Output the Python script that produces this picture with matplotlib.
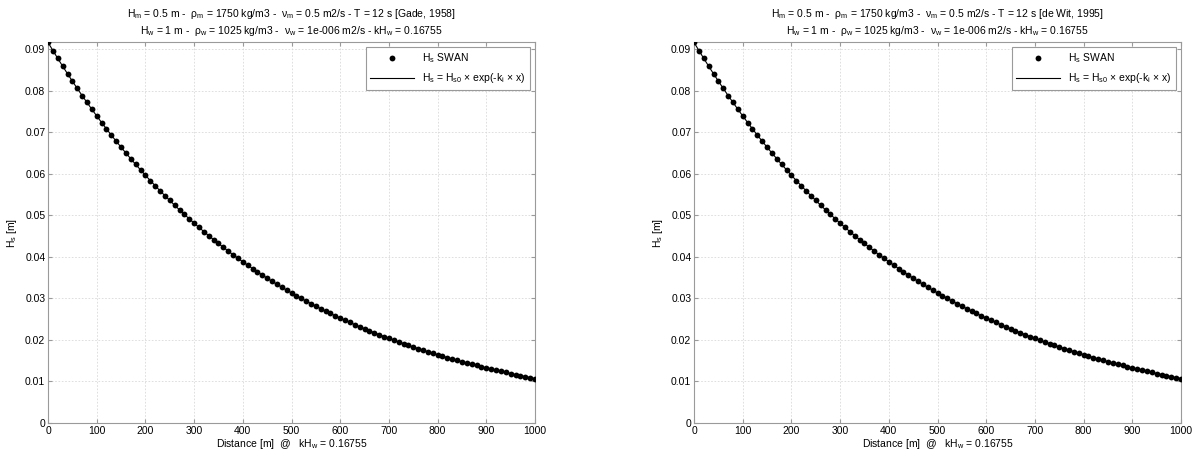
import numpy as np
import matplotlib
matplotlib.use("Agg")
from matplotlib import pyplot as plt
from matplotlib.ticker import FuncFormatter

plt.rcParams["font.family"] = ["Liberation Sans", "DejaVu Sans"]
plt.rcParams["mathtext.default"] = "regular"
plt.rcParams["font.size"] = 7.5

# distance along the flume [m]
distance = np.arange(0, 1001, 10)

# significant wave height from SWAN [m]
hs_swan = [
    0.09160, 0.08965, 0.08775, 0.08589, 0.08406, 0.08228, 0.08053, 0.07882, 0.07715, 0.07551,
    0.07390, 0.07233, 0.07080, 0.06929, 0.06782, 0.06638, 0.06497, 0.06359, 0.06224, 0.06092,
    0.05962, 0.05836, 0.05712, 0.05590, 0.05472, 0.05356, 0.05242, 0.05130, 0.05021, 0.04915,
    0.04810, 0.04708, 0.04608, 0.04510, 0.04414, 0.04321, 0.04229, 0.04139, 0.04051, 0.03965,
    0.03881, 0.03799, 0.03718, 0.03639, 0.03562, 0.03486, 0.03412, 0.03339, 0.03269, 0.03199,
    0.03131, 0.03065, 0.03000, 0.02936, 0.02874, 0.02813, 0.02753, 0.02694, 0.02637, 0.02581,
    0.02526, 0.02473, 0.02420, 0.02369, 0.02318, 0.02269, 0.02221, 0.02174, 0.02128, 0.02082,
    0.02038, 0.01995, 0.01953, 0.01911, 0.01870, 0.01831, 0.01792, 0.01754, 0.01717, 0.01680,
    0.01644, 0.01609, 0.01575, 0.01542, 0.01509, 0.01477, 0.01446, 0.01415, 0.01385, 0.01355,
    0.01327, 0.01298, 0.01271, 0.01244, 0.01217, 0.01191, 0.01166, 0.01141, 0.01117, 0.01093,
    0.01070,
]

# exponential fit Hs = Hs0 * exp(-ki * x)
hs_fit = list(hs_swan)

sources = ["[Gade, 1958]", "[de Wit, 1995]"]

title_line2 = ("H$_w$ = 1 m -  ρ$_w$ = 1025 kg/m3 -  ν$_w$ = 1e-006 m2/s - "
               "kH$_w$ = 0.16755")

fig = plt.figure(figsize=(11.95, 4.59), dpi=100)
axes = [fig.add_axes([0.0402, 0.0784, 0.4075, 0.830]),
        fig.add_axes([0.5808, 0.0784, 0.4075, 0.830])]

for ax, src in zip(axes, sources):
    ax.plot(distance, hs_swan, "o", color="black", markersize=4.2,
            markeredgewidth=0, label="H$_s$ SWAN", zorder=3)
    ax.plot(distance, hs_fit, "-", color="black", linewidth=0.8,
            label="H$_s$ = H$_{s0}$ × exp(-k$_i$ × x)", zorder=2)

    ax.set_xlim(0, 1000)
    ax.set_ylim(0, 0.0917)
    ax.set_xticks(np.arange(0, 1001, 100))
    ax.set_yticks(np.arange(0, 0.0901, 0.01))
    ax.yaxis.set_major_formatter(FuncFormatter(lambda v, p: f"{round(v, 3):g}"))
    ax.grid(True, linestyle=(0, (2, 2)), color="#d9d9d9", linewidth=0.6)
    ax.set_axisbelow(True)
    for s in ax.spines.values():
        s.set_color("#9a9a9a")
        s.set_linewidth(0.8)
    ax.tick_params(direction="in", length=3, color="#9a9a9a", pad=2,
                   top=True, right=True)

    ax.set_xlabel("Distance [m]  @   kH$_w$ = 0.16755", labelpad=1)
    ax.set_ylabel("H$_s$ [m]", labelpad=4)
    ax.set_title("H$_m$ = 0.5 m -  ρ$_m$ = 1750 kg/m3 -  ν$_m$ = 0.5 m2/s - T = 12 s "
                 + src + "\n" + title_line2, fontsize=7.5, pad=6, linespacing=1.3)

    leg = ax.legend(loc="upper right", fancybox=False, framealpha=1,
                    edgecolor="#9a9a9a", fontsize=7.5, handlelength=4.2,
                    borderaxespad=0.5, labelspacing=0.6)
    leg.get_frame().set_linewidth(0.8)

fig.savefig("out.png", dpi=100)
